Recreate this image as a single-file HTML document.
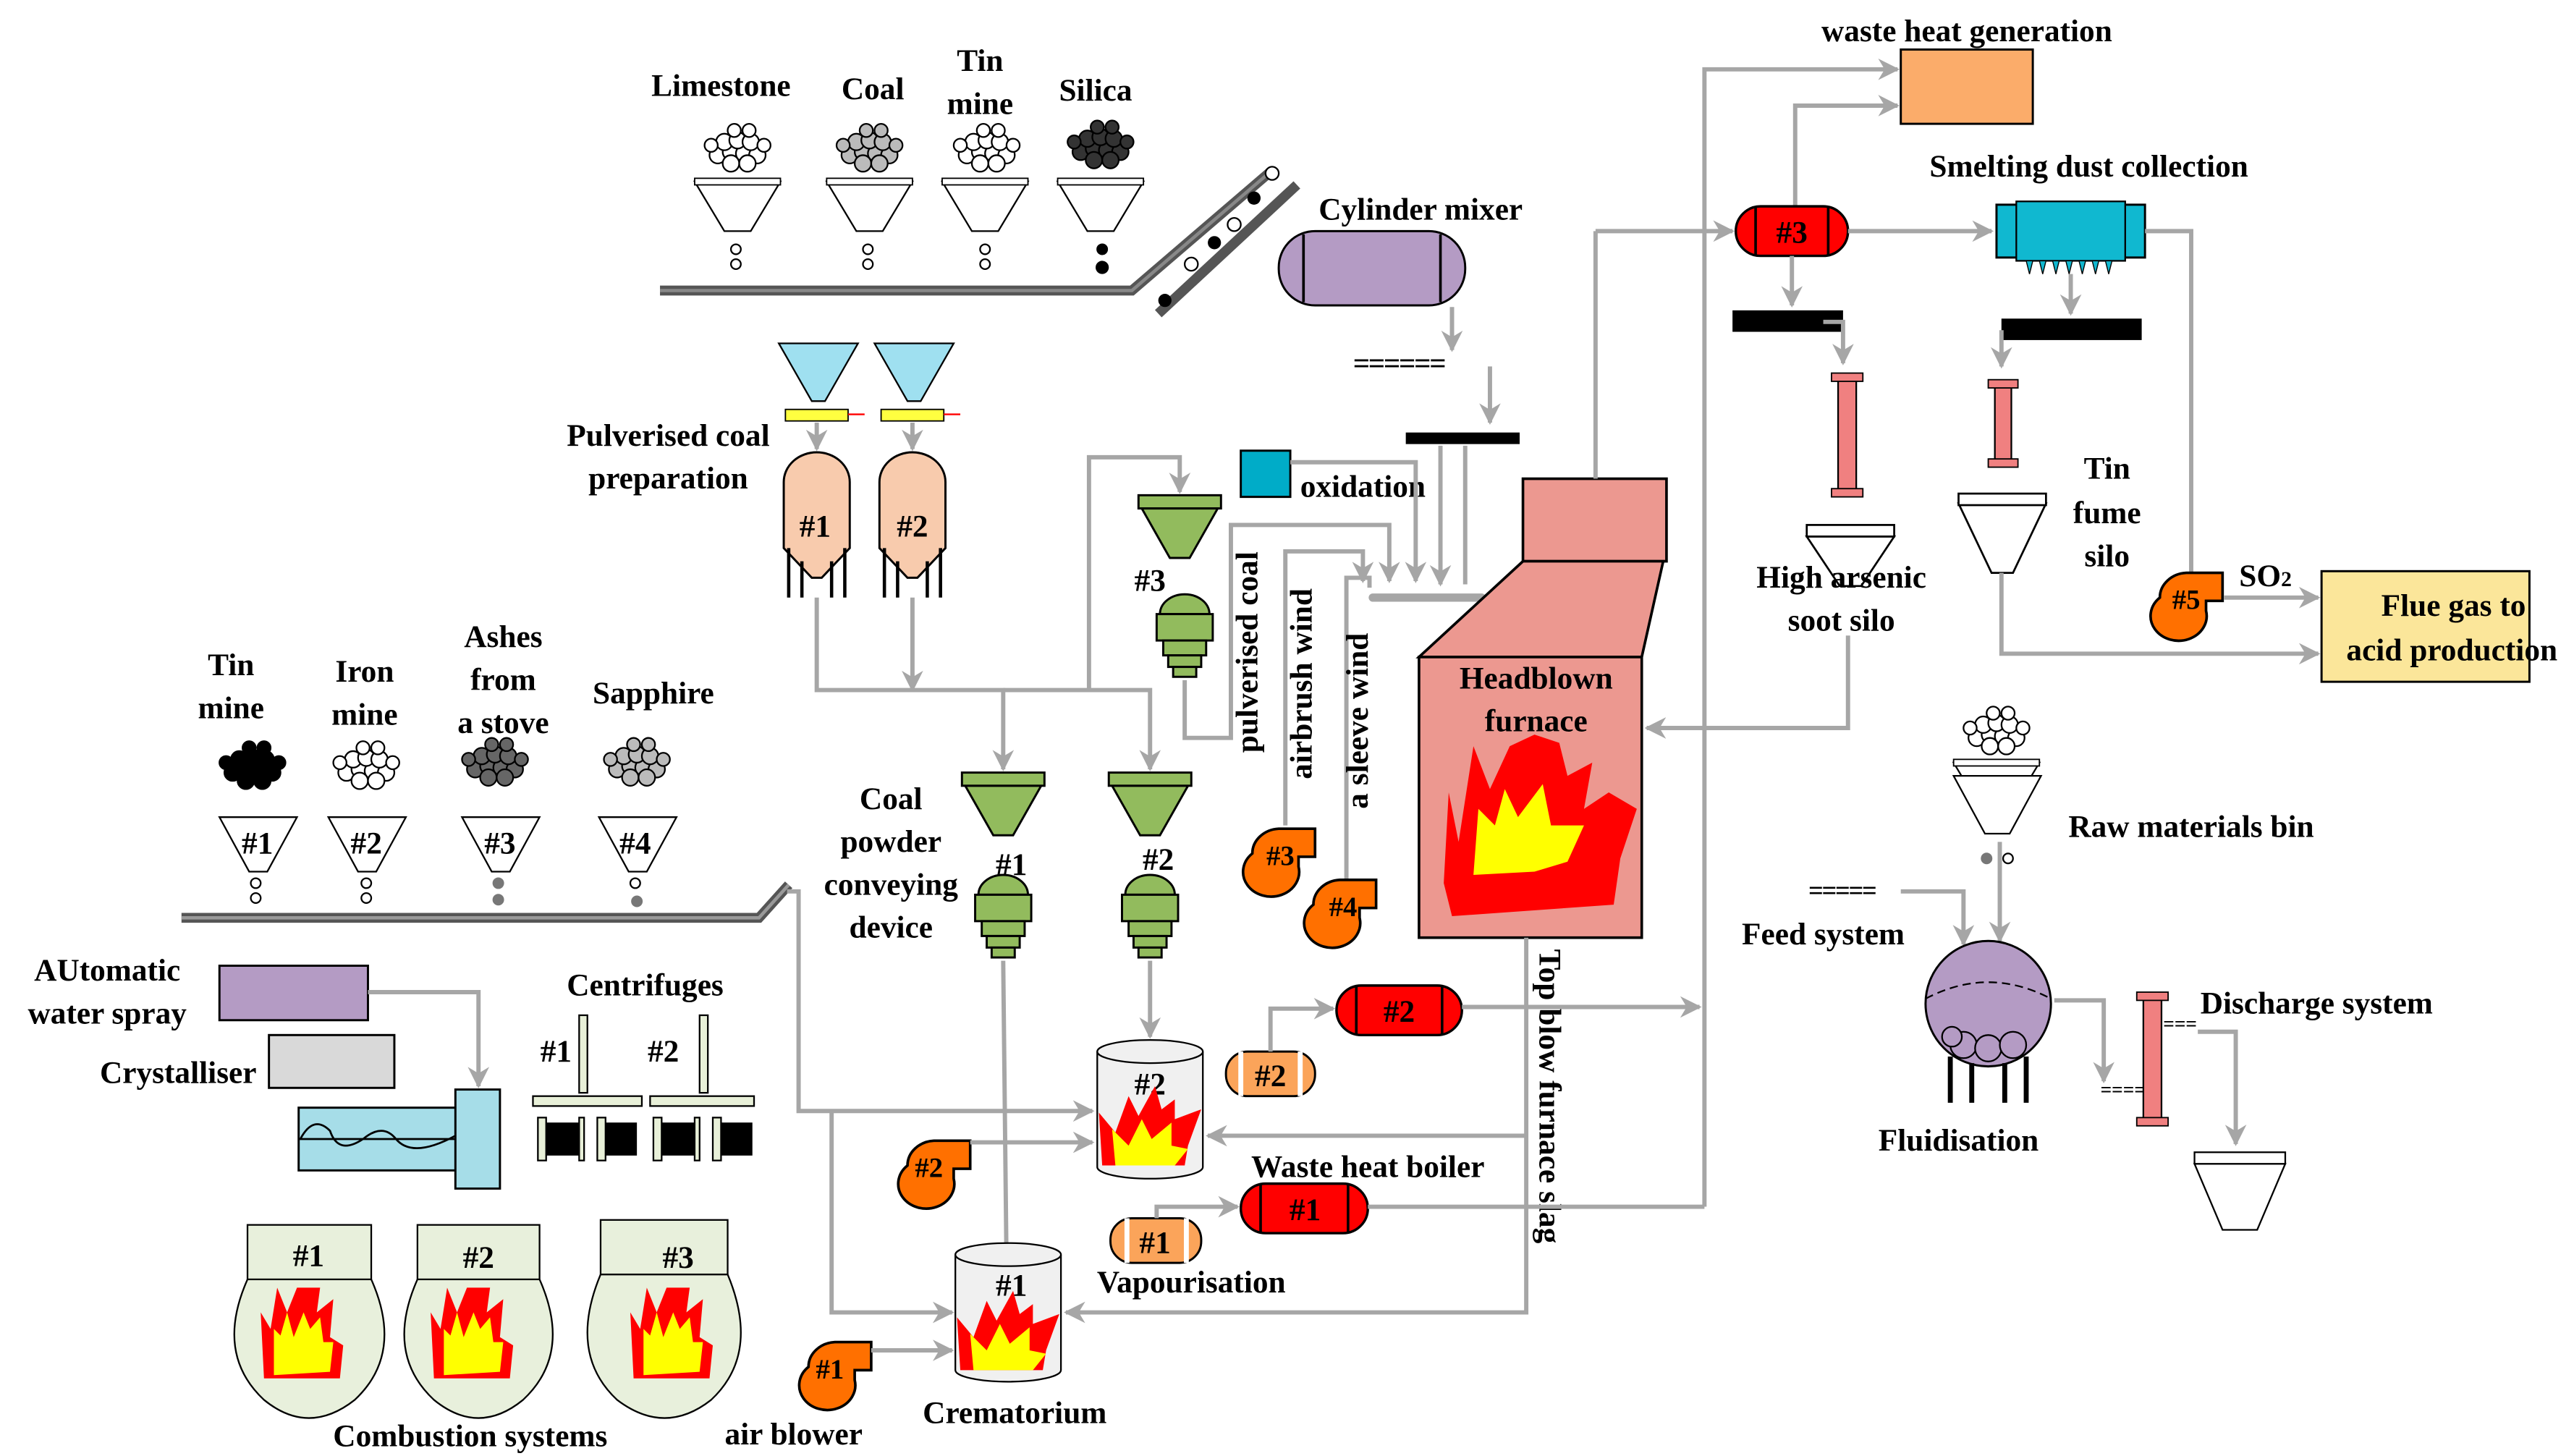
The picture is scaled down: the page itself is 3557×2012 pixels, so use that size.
<!DOCTYPE html>
<html><head><meta charset="utf-8"><style>
html,body{margin:0;padding:0;background:#fff}
svg{display:block}
text{font-family:"Liberation Serif",serif;font-size:19px;fill:#000;font-weight:bold}
.g{stroke:#a6a6a6;stroke-width:2.6;fill:none}
.k{stroke:#000;stroke-width:1.6}
</style></head><body>
<svg width="3557" height="2012" viewBox="0 0 1560 882" preserveAspectRatio="none" xmlns="http://www.w3.org/2000/svg">
<defs>
<marker id="a" viewBox="0 0 10 10" refX="9" refY="5" markerWidth="5" markerHeight="5" orient="auto-start-reverse"><path d="M0,0 L10,5 L0,10 L3,5 z" fill="#a6a6a6"/></marker>
<g id="fan"><path d="M-16,0 A17,15 0 1 0 12,8 L12,2 L22,2 L22,-15 L0,-15 A17,15 0 0 0 -16,0 z" fill="#ff7000" stroke="#000" stroke-width="1.6"/></g>
<g id="flame"><path d="M-30,22 L-32,-10 L-22,2 L-14,-20 L-8,-8 L2,-26 L6,-12 L14,-18 L14,-6 L30,-12 L22,10 L20,22 z" fill="#f00"/><path d="M-22,22 L-24,0 L-14,10 L-6,-6 L0,6 L12,-4 L12,10 L22,12 L14,22 z" fill="#ff0"/></g>
<g id="cyl"><path d="M-32,-35 L-32,35 A32,7 0 0 0 32,35 L32,-35" fill="#f0f0f0" stroke="#000" stroke-width="1"/><ellipse cx="0" cy="-35" rx="32" ry="7" fill="#f0f0f0" stroke="#000" stroke-width="1"/></g>
<g id="hop"><rect x="-25" y="0" width="50" height="8" fill="#92bb5d" stroke="#000" stroke-width="1.3"/><path d="M-23,8 L23,8 L6,38 L-6,38 z" fill="#92bb5d" stroke="#000" stroke-width="1.3"/></g>
<g id="dev"><path d="M-15,14 A15,12 0 0 1 15,14 z" fill="#92bb5d" stroke="#000" stroke-width="1.3"/><rect x="-17" y="14" width="34" height="16" fill="#92bb5d" stroke="#000" stroke-width="1.3"/><rect x="-13" y="30" width="26" height="9" fill="#92bb5d" stroke="#000" stroke-width="1.3"/><rect x="-10" y="39" width="20" height="7" fill="#92bb5d" stroke="#000" stroke-width="1.3"/><rect x="-7" y="46" width="14" height="6" fill="#92bb5d" stroke="#000" stroke-width="1.3"/></g>
<g id="fun"><path d="M-26,0 L26,0 L8,30 L-8,30 z" fill="#fff" stroke="#000" stroke-width="1"/><rect x="-26" y="-2" width="52" height="4" fill="#fff" stroke="#000" stroke-width="0.8"/></g>
<g id="pile"><circle cx="-12" cy="0" r="5"/><circle cx="-4" cy="-2" r="5"/><circle cx="4" cy="-1" r="5"/><circle cx="12" cy="0" r="5"/><circle cx="-8" cy="-8" r="5"/><circle cx="0" cy="-9" r="5"/><circle cx="8" cy="-8" r="5"/><circle cx="-16" cy="-6" r="4"/><circle cx="16" cy="-6" r="4"/><circle cx="-4" cy="5" r="5"/><circle cx="6" cy="5" r="5"/><circle cx="-2" cy="-15" r="4"/><circle cx="7" cy="-15" r="4"/></g>
<g id="cf"><path d="M-30,40 L-32,0 L-26,10 L-22,-15 L-16,0 L-10,-15 L4,-15 L2,0 L12,-8 L10,15 L18,20 L16,40 z" fill="#f00"/><path d="M-24,38 L-24,10 L-20,14 L-16,0 L-12,15 L-6,0 L-2,10 L4,3 L6,18 L12,18 L10,36 z" fill="#ff0"/></g>
</defs>

<!-- Top raw materials -->
<text x="437" y="58" text-anchor="middle">Limestone</text>
<text x="529" y="60" text-anchor="middle">Coal</text>
<text x="594" y="43" text-anchor="middle">Tin</text>
<text x="594" y="69" text-anchor="middle">mine</text>
<text x="664" y="61" text-anchor="middle">Silica</text>
<use href="#pile" x="447" y="94" fill="#fff" stroke="#000" stroke-width="1"/>
<use href="#pile" x="527" y="94" fill="#bbb" stroke="#000" stroke-width="1"/>
<use href="#pile" x="598" y="94" fill="#fff" stroke="#000" stroke-width="1"/>
<use href="#pile" x="667" y="92" fill="#333" stroke="#000" stroke-width="1"/>
<use href="#fun" x="447" y="110"/><use href="#fun" x="527" y="110"/><use href="#fun" x="597" y="110"/><use href="#fun" x="667" y="110"/>
<g fill="#fff" stroke="#000" stroke-width="1"><circle cx="446" cy="151" r="3"/><circle cx="446" cy="160" r="3"/><circle cx="526" cy="151" r="3"/><circle cx="526" cy="160" r="3"/><circle cx="597" cy="151" r="3"/><circle cx="597" cy="160" r="3"/></g>
<circle cx="668" cy="151" r="3.5"/><circle cx="668" cy="162" r="4"/>
<path d="M400,176 L686,176 L770,104" stroke="#555" stroke-width="6" fill="none"/>
<path d="M400,176 L686,176 L770,104" stroke="#888" stroke-width="2" fill="none"/>
<path d="M702,190 L786,112" stroke="#555" stroke-width="6" fill="none"/>
<g fill="#fff" stroke="#000"><circle cx="722" cy="160" r="4"/><circle cx="748" cy="136" r="4"/><circle cx="771" cy="105" r="4"/></g>
<circle cx="706" cy="182" r="4"/><circle cx="736" cy="147" r="4"/><circle cx="760" cy="120" r="4"/>

<!-- Cylinder mixer -->
<text x="861" y="133" text-anchor="middle">Cylinder mixer</text>
<rect x="775" y="140" width="113" height="45" rx="22" fill="#b49bc4" stroke="#000" stroke-width="1.3"/>
<line x1="790" y1="142" x2="790" y2="183" class="k"/><line x1="873" y1="142" x2="873" y2="183" class="k"/>
<line x1="880" y1="186" x2="880" y2="212" class="g" marker-end="url(#a)"/>
<text x="820" y="226" style="font-size:18px;letter-spacing:-1px">======</text>
<line x1="903" y1="222" x2="903" y2="256" class="g" marker-end="url(#a)"/>
<rect x="852" y="262" width="69" height="7" fill="#000"/>

<!-- Pulverised coal prep -->
<text x="405" y="270" text-anchor="middle">Pulverised coal</text>
<text x="405" y="296" text-anchor="middle">preparation</text>
<g fill="#9fe0f0" stroke="#000" stroke-width="1"><path d="M472,208 L520,208 L500,243 L492,243 z"/><path d="M530,208 L578,208 L558,243 L550,243 z"/></g>
<rect x="476" y="248" width="38" height="7" fill="#ffff40" stroke="#000" stroke-width="0.8"/><line x1="514" y1="251" x2="524" y2="251" stroke="#f00"/>
<rect x="534" y="248" width="38" height="7" fill="#ffff40" stroke="#000" stroke-width="0.8"/><line x1="572" y1="251" x2="582" y2="251" stroke="#f00"/>
<line x1="495" y1="256" x2="495" y2="272" class="g" marker-end="url(#a)"/><line x1="553" y1="256" x2="553" y2="272" class="g" marker-end="url(#a)"/>
<g fill="#f8cbad" stroke="#000" stroke-width="1.3">
<path d="M475,292 A20,18 0 0 1 515,292 L515,332 L498,350 L492,350 L475,332 z"/><path d="M533,292 A20,18 0 0 1 573,292 L573,332 L556,350 L550,350 L533,332 z"/></g>
<g stroke="#000" stroke-width="2"><line x1="478" y1="332" x2="478" y2="362"/><line x1="512" y1="332" x2="512" y2="362"/><line x1="486" y1="340" x2="486" y2="362"/><line x1="504" y1="340" x2="504" y2="362"/><line x1="536" y1="332" x2="536" y2="362"/><line x1="570" y1="332" x2="570" y2="362"/><line x1="544" y1="340" x2="544" y2="362"/><line x1="562" y1="340" x2="562" y2="362"/></g>
<text x="494" y="325" text-anchor="middle">#1</text><text x="553" y="325" text-anchor="middle">#2</text>
<polyline points="495,362 495,418 608,418 608,466" class="g" marker-end="url(#a)"/>
<line x1="553" y1="362" x2="553" y2="418" class="g" marker-end="url(#a)"/>
<polyline points="608,418 697,418 697,466" class="g" marker-end="url(#a)"/>
<polyline points="660,418 660,277 715,277 715,298" class="g" marker-end="url(#a)"/>

<!-- #3 hopper & device -->
<use href="#hop" x="715" y="300"/><text x="697" y="358" text-anchor="middle">#3</text>
<use href="#dev" x="718" y="358"/>
<polyline points="718,412 718,447 746,447 746,318 842,318 842,352" class="g" marker-end="url(#a)"/>
<rect x="752" y="273" width="30" height="28" fill="#00acc8" stroke="#000" stroke-width="1.3"/>
<text x="826" y="301" text-anchor="middle">oxidation</text>
<polyline points="782,280 858,280 858,352" class="g" marker-end="url(#a)"/>
<polyline points="779,500 779,334 826,334 826,352" class="g" marker-end="url(#a)"/>
<polyline points="816,540 816,350 830,350 830,356" class="g"/>
<line x1="873" y1="270" x2="873" y2="354" class="g" marker-end="url(#a)"/>
<line x1="888" y1="270" x2="888" y2="354" class="g"/>
<line x1="832" y1="362" x2="898" y2="362" stroke="#a6a6a6" stroke-width="5" stroke-linecap="round"/>
<text transform="translate(762,456) rotate(-90)">pulverised coal</text>
<text transform="translate(795,472) rotate(-90)">airbrush wind</text>
<text transform="translate(829,490) rotate(-90)">a sleeve wind</text>
<use href="#fan" x="775" y="517"/><text x="776" y="524" text-anchor="middle" style="font-size:17px">#3</text>
<use href="#fan" x="812" y="548"/><text x="814" y="555" text-anchor="middle" style="font-size:17px">#4</text>

<!-- Furnace -->
<g fill="#ec9890" stroke="#000" stroke-width="1.6">
<rect x="923" y="290" width="87" height="50"/>
<path d="M923,340 L1008,340 L995,398 L860,398 z"/>
<rect x="860" y="398" width="135" height="170"/></g>
<text x="931" y="417" text-anchor="middle">Headblown</text>
<text x="931" y="443" text-anchor="middle">furnace</text>
<path d="M875,535 L878,480 L884,510 L893,452 L903,478 L915,452 L930,445 L945,450 L950,470 L965,462 L960,490 L975,480 L992,490 L982,520 L978,548 L880,555 z" fill="#f00"/>
<path d="M893,530 L896,490 L906,500 L912,478 L920,495 L935,475 L940,500 L960,500 L950,522 L930,528 z" fill="#ff0"/>
<line x1="967" y1="290" x2="967" y2="140" class="g"/>
<polyline points="967,140 1050,140" class="g" marker-end="url(#a)"/>
<text transform="translate(933,575) rotate(90)">Top blow furnace slag</text>

<!-- Right top -->
<text x="1192" y="25" text-anchor="middle">waste heat generation</text>
<rect x="1152" y="30" width="80" height="45" fill="#fbac6a" stroke="#000" stroke-width="1.3"/>
<polyline points="1033,731 1033,42 1150,42" class="g" marker-end="url(#a)"/>
<polyline points="1088,125 1088,64 1150,64" class="g" marker-end="url(#a)"/>
<rect x="1052" y="125" width="68" height="30" rx="15" fill="#f00" stroke="#000" stroke-width="1.5"/>
<line x1="1064" y1="125" x2="1064" y2="155" class="k"/><line x1="1108" y1="125" x2="1108" y2="155" class="k"/>
<text x="1086" y="147" text-anchor="middle">#3</text>
<line x1="1120" y1="140" x2="1207" y2="140" class="g" marker-end="url(#a)"/>
<text x="1266" y="107" text-anchor="middle">Smelting dust collection</text>
<rect x="1210" y="124" width="90" height="32" fill="#10b8d0" stroke="#000" stroke-width="1.3"/>
<rect x="1222" y="122" width="66" height="36" fill="#10b8d0" stroke="#000" stroke-width="1"/>
<g fill="#10b8d0" stroke="#000" stroke-width="0.6"><path d="M1228,158 l4,0 l-2,8z M1236,158 l4,0 l-2,8z M1244,158 l4,0 l-2,8z M1252,158 l4,0 l-2,8z M1260,158 l4,0 l-2,8z M1268,158 l4,0 l-2,8z M1276,158 l4,0 l-2,8z"/></g>
<rect x="1050" y="188" width="67" height="13" fill="#000"/>
<rect x="1213" y="193" width="85" height="13" fill="#000"/>
<line x1="1086" y1="155" x2="1086" y2="185" class="g" marker-end="url(#a)"/>
<line x1="1255" y1="166" x2="1255" y2="190" class="g" marker-end="url(#a)"/>
<polyline points="1105,195 1117,195 1117,220" class="g" marker-end="url(#a)"/>
<polyline points="1213,200 1213,222" class="g" marker-end="url(#a)"/>
<rect x="1114" y="228" width="11" height="72" fill="#f08080" stroke="#000" stroke-width="1"/>
<rect x="1110" y="226" width="19" height="5" fill="#f08080" stroke="#000" stroke-width="0.8"/><rect x="1110" y="296" width="19" height="5" fill="#f08080" stroke="#000" stroke-width="0.8"/>
<rect x="1209" y="232" width="10" height="50" fill="#f08080" stroke="#000" stroke-width="1"/>
<rect x="1205" y="230" width="18" height="5" fill="#f08080" stroke="#000" stroke-width="0.8"/><rect x="1205" y="278" width="18" height="5" fill="#f08080" stroke="#000" stroke-width="0.8"/>
<g fill="#fff" stroke="#000" stroke-width="1.2"><path d="M1095,325 L1148,325 L1128,355 L1115,355 z"/><rect x="1095" y="318" width="53" height="7"/><path d="M1187,305 L1240,305 L1220,347 L1207,347 z"/><rect x="1187" y="299" width="53" height="7"/></g>
<text x="1116" y="356" text-anchor="middle">High arsenic</text>
<text x="1116" y="382" text-anchor="middle">soot silo</text>
<text x="1277" y="290" text-anchor="middle">Tin</text>
<text x="1277" y="317" text-anchor="middle">fume</text>
<text x="1277" y="343" text-anchor="middle">silo</text>
<polyline points="1120,385 1120,441 998,441" class="g" marker-end="url(#a)"/>
<polyline points="1300,140 1328,140 1328,347" class="g"/>
<use href="#fan" x="1325" y="362"/><text x="1325" y="369" text-anchor="middle" style="font-size:17px">#5</text>
<text x="1373" y="355" text-anchor="middle">SO<tspan style="font-size:13px">2</tspan></text>
<line x1="1348" y1="362" x2="1405" y2="362" class="g" marker-end="url(#a)"/>
<polyline points="1213,347 1213,396 1405,396" class="g" marker-end="url(#a)"/>
<rect x="1407" y="346" width="126" height="67" fill="#fbe69a" stroke="#000" stroke-width="1.3"/>
<text x="1487" y="373" text-anchor="middle">Flue gas to</text>
<text x="1486" y="400" text-anchor="middle">acid production</text>

<!-- Raw materials / fluidisation -->
<use href="#pile" x="1210" y="447" fill="#fff" stroke="#000" stroke-width="1"/>
<use href="#fun" x="1210" y="462"/>
<path d="M1184,470 L1237,470 L1218,505 L1203,505 z" fill="#fff" stroke="#000" stroke-width="1"/>
<circle cx="1204" cy="520" r="3.5" fill="#777"/><circle cx="1217" cy="520" r="3" fill="#fff" stroke="#000"/>
<text x="1328" y="507" text-anchor="middle">Raw materials bin</text>
<text x="1096" y="545" style="font-size:16px;letter-spacing:-1px">=====</text>
<text x="1105" y="572" text-anchor="middle">Feed system</text>
<polyline points="1152,540 1190,540 1190,572" class="g" marker-end="url(#a)"/>
<line x1="1212" y1="510" x2="1212" y2="570" class="g" marker-end="url(#a)"/>
<circle cx="1205" cy="608" r="38" fill="#b49bc4" stroke="#000" stroke-width="1.3"/>
<path d="M1167,605 Q1205,585 1243,605" fill="none" stroke="#000" stroke-dasharray="5 3"/>
<g fill="#b49bc4" stroke="#000"><circle cx="1190" cy="633" r="8"/><circle cx="1205" cy="635" r="8"/><circle cx="1220" cy="633" r="8"/><circle cx="1183" cy="628" r="6"/></g>
<g stroke="#000" stroke-width="3"><line x1="1182" y1="640" x2="1182" y2="668"/><line x1="1195" y1="644" x2="1195" y2="668"/><line x1="1215" y1="644" x2="1215" y2="668"/><line x1="1228" y1="640" x2="1228" y2="668"/></g>
<text x="1187" y="697" text-anchor="middle">Fluidisation</text>
<polyline points="1245,606 1275,606 1275,655" class="g" marker-end="url(#a)"/>
<text x="1273" y="664" style="font-size:12px">====</text>
<rect x="1299" y="603" width="11" height="77" fill="#f08080" stroke="#000" stroke-width="1"/>
<rect x="1295" y="601" width="19" height="5" fill="#f08080" stroke="#000" stroke-width="0.8"/><rect x="1295" y="677" width="19" height="5" fill="#f08080" stroke="#000" stroke-width="0.8"/>
<text x="1311" y="624" style="font-size:12px">===</text>
<polyline points="1332,625 1355,625 1355,693" class="g" marker-end="url(#a)"/>
<text x="1404" y="614" text-anchor="middle">Discharge system</text>
<path d="M1330,705 L1385,705 L1368,745 L1347,745 z" fill="#fff" stroke="#000" stroke-width="1"/><rect x="1330" y="698" width="55" height="7" fill="#fff" stroke="#000" stroke-width="1"/>

<!-- Lower left raw materials -->
<text x="140" y="409" text-anchor="middle">Tin</text><text x="140" y="435" text-anchor="middle">mine</text>
<text x="221" y="413" text-anchor="middle">Iron</text><text x="221" y="439" text-anchor="middle">mine</text>
<text x="305" y="392" text-anchor="middle">Ashes</text><text x="305" y="418" text-anchor="middle">from</text><text x="305" y="444" text-anchor="middle">a stove</text>
<text x="396" y="426" text-anchor="middle">Sapphire</text>
<use href="#pile" x="153" y="468" fill="#000" stroke="#000"/>
<use href="#pile" x="222" y="468" fill="#fff" stroke="#000" stroke-width="1"/>
<use href="#pile" x="300" y="466" fill="#666" stroke="#000" stroke-width="1"/>
<use href="#pile" x="386" y="466" fill="#bbb" stroke="#000" stroke-width="1"/>
<g fill="#fff" stroke="#000" stroke-width="1">
<path d="M133,495 L180,495 L162,528 L151,528 z"/><path d="M199,495 L246,495 L228,528 L217,528 z"/><path d="M280,495 L327,495 L309,528 L298,528 z"/><path d="M363,495 L410,495 L392,528 L381,528 z"/></g>
<text x="156" y="517" text-anchor="middle">#1</text><text x="222" y="517" text-anchor="middle">#2</text><text x="303" y="517" text-anchor="middle">#3</text><text x="385" y="517" text-anchor="middle">#4</text>
<g fill="#fff" stroke="#000"><circle cx="155" cy="535" r="3"/><circle cx="155" cy="544" r="3"/><circle cx="222" cy="535" r="3"/><circle cx="222" cy="544" r="3"/><circle cx="385" cy="535" r="3"/></g>
<circle cx="302" cy="535" r="3.5" fill="#777"/><circle cx="302" cy="545" r="3.5" fill="#777"/><circle cx="386" cy="546" r="3.5" fill="#777"/>
<path d="M110,556 L460,556 L478,536" stroke="#555" stroke-width="6" fill="none"/>
<path d="M110,556 L460,556 L478,536" stroke="#999" stroke-width="2" fill="none"/>

<!-- Coal powder conveying -->
<text x="540" y="490" text-anchor="middle">Coal</text>
<text x="540" y="516" text-anchor="middle">powder</text>
<text x="540" y="542" text-anchor="middle">conveying</text>
<text x="540" y="568" text-anchor="middle">device</text>
<use href="#hop" x="608" y="468"/><use href="#hop" x="697" y="468"/>
<text x="613" y="530" text-anchor="middle">#1</text><text x="702" y="527" text-anchor="middle">#2</text>
<use href="#dev" x="608" y="528"/><use href="#dev" x="697" y="528"/>
<line x1="697" y1="582" x2="697" y2="628" class="g" marker-end="url(#a)"/>
<line x1="608" y1="582" x2="610" y2="765" class="g" marker-end="url(#a)"/>
<polyline points="477,540 484,540 484,673 662,673" class="g" marker-end="url(#a)"/>
<polyline points="504,673 504,795 577,795" class="g" marker-end="url(#a)"/>

<!-- Burners -->
<use href="#cyl" x="697" y="672"/><text x="697" y="663" text-anchor="middle">#2</text><use href="#flame" x="698" y="684"/>
<use href="#cyl" x="611" y="795"/><text x="613" y="785" text-anchor="middle">#1</text><use href="#flame" x="612" y="808"/>
<use href="#fan" x="566" y="706"/><text x="563" y="713" text-anchor="middle" style="font-size:17px">#2</text>
<line x1="588" y1="692" x2="662" y2="692" class="g" marker-end="url(#a)"/>
<use href="#fan" x="506" y="828"/><text x="503" y="835" text-anchor="middle" style="font-size:17px">#1</text>
<line x1="528" y1="818" x2="577" y2="818" class="g" marker-end="url(#a)"/>
<polyline points="925,568 925,795 646,795" class="g" marker-end="url(#a)"/>
<line x1="925" y1="688" x2="732" y2="688" class="g" marker-end="url(#a)"/>
<text x="615" y="862" text-anchor="middle">Crematorium</text>
<text x="481" y="875" text-anchor="middle">air blower</text>

<!-- boilers -->
<rect x="743" y="637" width="54" height="27" rx="13" fill="#fba45a" stroke="#000" stroke-width="1.3"/>
<line x1="752" y1="637" x2="752" y2="664" stroke="#fff" stroke-width="3"/><line x1="788" y1="637" x2="788" y2="664" stroke="#fff" stroke-width="3"/>
<text x="770" y="658" text-anchor="middle">#2</text>
<rect x="673" y="738" width="55" height="27" rx="13" fill="#fba45a" stroke="#000" stroke-width="1.3"/>
<line x1="683" y1="738" x2="683" y2="765" stroke="#fff" stroke-width="3"/><line x1="719" y1="738" x2="719" y2="765" stroke="#fff" stroke-width="3"/>
<text x="700" y="759" text-anchor="middle">#1</text>
<polyline points="770,637 770,611 808,611" class="g" marker-end="url(#a)"/>
<polyline points="701,738 701,731 750,731" class="g" marker-end="url(#a)"/>
<rect x="810" y="597" width="76" height="30" rx="15" fill="#f00" stroke="#000" stroke-width="1.5"/>
<line x1="822" y1="597" x2="822" y2="627" class="k"/><line x1="874" y1="597" x2="874" y2="627" class="k"/>
<text x="848" y="619" text-anchor="middle">#2</text>
<rect x="752" y="717" width="77" height="30" rx="15" fill="#f00" stroke="#000" stroke-width="1.5"/>
<line x1="764" y1="717" x2="764" y2="747" class="k"/><line x1="817" y1="717" x2="817" y2="747" class="k"/>
<text x="791" y="739" text-anchor="middle">#1</text>
<line x1="886" y1="610" x2="1030" y2="610" class="g" marker-end="url(#a)"/>
<line x1="829" y1="731" x2="1033" y2="731" class="g"/>
<text x="829" y="713" text-anchor="middle">Waste heat boiler</text>
<text x="722" y="783" text-anchor="middle">Vapourisation</text>

<!-- Left side equipment -->
<text x="65" y="594" text-anchor="middle">AUtomatic</text>
<text x="65" y="620" text-anchor="middle">water spray</text>
<rect x="133" y="585" width="90" height="33" fill="#b49bc4" stroke="#000" stroke-width="1.3"/>
<text x="108" y="656" text-anchor="middle">Crystalliser</text>
<rect x="163" y="627" width="76" height="32" fill="#d9d9d9" stroke="#000" stroke-width="1.3"/>
<polyline points="223,601 290,601 290,658" class="g" marker-end="url(#a)"/>
<rect x="181" y="671" width="96" height="38" fill="#a6dde8" stroke="#000" stroke-width="1.3"/>
<rect x="276" y="660" width="27" height="60" fill="#a6dde8" stroke="#000" stroke-width="1.3"/>
<path d="M181,690 L276,690 M182,690 Q190,675 200,685 Q205,700 220,690 Q232,680 240,690 Q250,702 276,688" stroke="#000" fill="none" stroke-width="1.2"/>
<text x="391" y="603" text-anchor="middle">Centrifuges</text>
<text x="337" y="643" text-anchor="middle">#1</text><text x="402" y="643" text-anchor="middle">#2</text>
<g fill="#e8f0d8" stroke="#000" stroke-width="1"><rect x="351" y="615" width="5" height="47"/><rect x="424" y="615" width="5" height="47"/><rect x="323" y="664" width="66" height="6"/><rect x="394" y="664" width="63" height="6"/></g>
<g fill="#000"><rect x="330" y="680" width="22" height="20"/><rect x="364" y="680" width="22" height="20"/><rect x="400" y="680" width="22" height="20"/><rect x="434" y="680" width="22" height="20"/></g>
<g fill="#e8f0d8" stroke="#000" stroke-width="1"><rect x="326" y="677" width="5" height="26"/><rect x="351" y="677" width="3" height="26"/><rect x="362" y="677" width="5" height="26"/><rect x="396" y="677" width="5" height="26"/><rect x="421" y="677" width="3" height="26"/><rect x="432" y="677" width="5" height="26"/></g>

<!-- Combustion systems -->
<g fill="#e8f0dc" stroke="#000" stroke-width="1">
<path d="M150,775 L225,775 Q245,820 215,848 Q187,870 160,848 Q130,820 150,775 z"/><rect x="150" y="742" width="75" height="33"/>
<path d="M253,775 L327,775 Q347,820 317,848 Q290,870 263,848 Q233,820 253,775 z"/><rect x="253" y="742" width="74" height="33"/>
<path d="M364,772 L441,772 Q461,820 431,848 Q403,870 374,848 Q344,820 364,772 z"/><rect x="364" y="739" width="77" height="33"/></g>
<text x="187" y="767" text-anchor="middle">#1</text><text x="290" y="768" text-anchor="middle">#2</text><text x="411" y="768" text-anchor="middle">#3</text>
<use href="#cf" x="190" y="795"/><use href="#cf" x="293" y="795"/><use href="#cf" x="414" y="795"/>
<text x="285" y="876" text-anchor="middle">Combustion systems</text>
</svg>
</body></html>
